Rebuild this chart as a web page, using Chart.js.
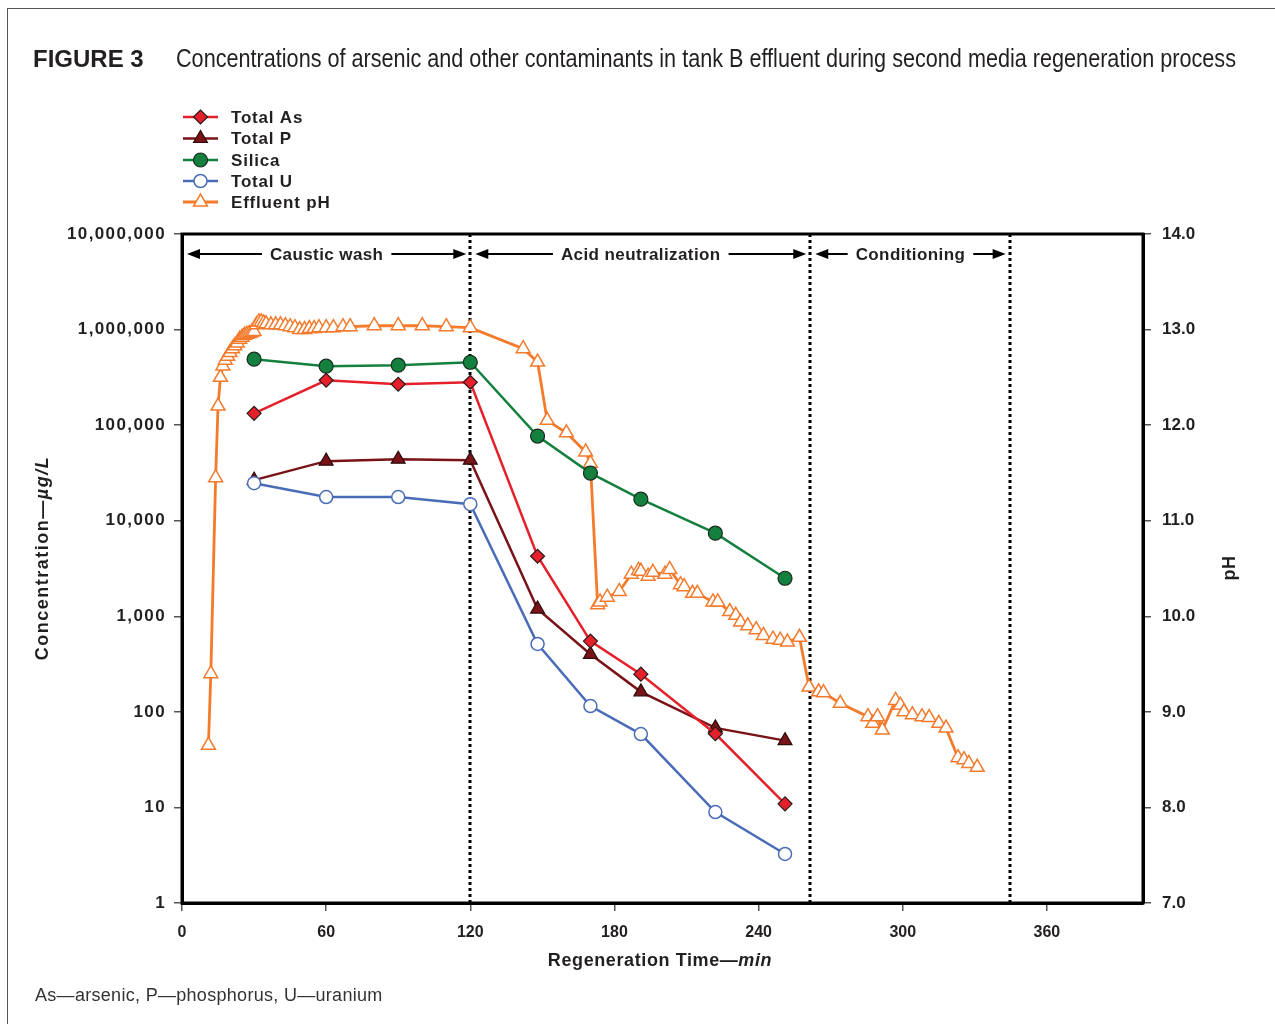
<!DOCTYPE html>
<html>
<head>
<meta charset="utf-8">
<script src="https://cdn.jsdelivr.net/npm/chart.js@4.4.0/dist/chart.umd.min.js"></script>
<style>
  html, body { margin: 0; padding: 0; background: #fff; }
  #wrap { position: relative; width: 1275px; height: 1024px; overflow: hidden; }
  #frame { position: absolute; left: 7px; top: 8px; width: 1280px; height: 1030px;
           border-left: 1.5px solid #555; border-top: 1.5px solid #555; }
  canvas { position: absolute; left: 0; top: 0; }
</style>
</head>
<body>
<div id="wrap">
  <div id="frame"></div>
  <canvas id="chart" width="1275" height="1024"></canvas>
</div>
<script>
// sampling times (min) for the lab samples
const sampleTimes = [30, 60, 90, 120, 148, 170, 191, 222, 251];
const totalAs = [133000, 295000, 268000, 281000, 4250, 550, 248, 59, 10.9];
const totalP  = [26600, 42000, 44000, 43000, 1190, 400, 162, 68, 50];
const silica  = [490000, 414000, 424000, 455000, 76800, 31500, 16800, 7400, 2500];
const totalU  = [24700, 17700, 17700, 14900, 513, 115, 58.6, 8.95, 3.26];

// effluent pH (online readings)
const phTimes = [11, 12, 14, 15, 16, 17, 18, 19, 20, 21, 22, 23, 24, 25, 26, 27, 28, 29, 30,
  31, 32, 33, 34, 35, 37, 39, 41, 43, 45, 47, 49, 51, 53, 55, 57, 60, 63, 67, 70, 80, 90, 100, 110, 120,
  142, 148, 152, 160, 168, 170, 173, 174, 177, 182, 187, 190, 191, 194, 196, 201, 203,
  207.5, 209, 212.5, 214.5, 221, 223, 228, 230.5, 232.5, 235.5, 239, 242, 246, 249, 252, 257,
  261, 265, 267, 274, 285.5, 287.5, 289.5, 291.5, 297, 299, 300.5, 304, 308, 311, 315, 318,
  323, 325.5, 327.5, 331];
const phValues = [8.65, 9.4, 11.45, 12.2, 12.5, 12.62, 12.68, 12.72, 12.76, 12.8, 12.83, 12.86, 12.9, 12.92, 12.94, 12.95, 12.96, 12.97, 12.98,
  13.05, 13.08, 13.08, 13.07, 13.06, 13.05, 13.05, 13.05, 13.04, 13.03, 13.02, 13.0, 13.0, 13.01, 13.01, 13.02, 13.02, 13.02, 13.03, 13.03, 13.04, 13.04, 13.04, 13.03, 13.02,
  12.8, 12.66, 12.05, 11.92, 11.72, 11.6, 10.12, 10.15, 10.2, 10.26, 10.44, 10.48, 10.47, 10.42, 10.46, 10.44, 10.49,
  10.33, 10.31, 10.24, 10.24, 10.15, 10.15, 10.05, 10.01, 9.94, 9.9, 9.86, 9.8, 9.76, 9.75, 9.73, 9.78,
  9.26, 9.21, 9.2, 9.09, 8.95, 8.88, 8.95, 8.81, 9.12, 9.07, 9.0, 8.97, 8.95, 8.94, 8.88, 8.83,
  8.52, 8.5, 8.46, 8.42];

const xTicks = [0, 60, 120, 180, 240, 300, 360];
const yTicks = [1, 10, 100, 1000, 10000, 100000, 1000000, 10000000];
const phTicks = [7, 8, 9, 10, 11, 12, 13, 14];

const phaseNames = ['Caustic wash', 'Acid neutralization', 'Conditioning'];
const phaseStart = [0, 120, 261.5];
const phaseEnd = [120, 261.5, 344.5];

const FONT = '"Liberation Sans", Arial, Helvetica, sans-serif';
const INK = '#231f20';

function pts(xs, ys) {
  return xs.map((t, i) => ({ x: t, y: ys[i] }));
}

// wider tracking for the left tick labels
function spacedLabels(s) {
  if (s._spaced) return;
  const orig = s.drawLabels.bind(s);
  s.drawLabels = function (area) {
    const c = this.ctx;
    c.save();
    c.letterSpacing = '1.4px';
    orig(area);
    c.restore();
  };
  s._spaced = true;
}

function drawMarker(ctx, ds, x, y) {
  const opts = { pointStyle: ds.pointStyle, radius: ds.pointRadius, borderWidth: ds.pointBorderWidth, rotation: 0 };
  ctx.fillStyle = ds.pointBackgroundColor;
  ctx.strokeStyle = ds.pointBorderColor;
  ctx.lineWidth = ds.pointBorderWidth;
  if (Chart.helpers && Chart.helpers.drawPoint) {
    Chart.helpers.drawPoint(ctx, opts, x, y);
  } else {
    ctx.beginPath(); ctx.arc(x, y, ds.pointRadius, 0, Math.PI * 2); ctx.fill(); ctx.stroke();
  }
}

const decor = {
  id: 'decor',
  beforeDatasetsDraw(chart) {
    const { ctx, chartArea: a, scales: { x } } = chart;
    ctx.save();
    // dotted phase boundaries
    ctx.strokeStyle = '#000';
    ctx.lineWidth = 3;
    ctx.setLineDash([3, 3]);
    phaseEnd.forEach(t => {
      const px = Math.round(x.getPixelForValue(t));
      ctx.beginPath(); ctx.moveTo(px, a.top); ctx.lineTo(px, a.bottom); ctx.stroke();
    });
    ctx.setLineDash([]);

    // phase arrows
    const ay = a.top + 20;
    ctx.font = 'bold 17px ' + FONT;
    ctx.letterSpacing = '0.4px';
    ctx.textAlign = 'center';
    ctx.textBaseline = 'middle';
    phaseNames.forEach((name, i) => {
      const x0 = x.getPixelForValue(phaseStart[i]) + 5;
      const x1 = x.getPixelForValue(phaseEnd[i]) - 4;
      const cx = (x0 + x1) / 2;
      const w = ctx.measureText(name).width;
      ctx.fillStyle = INK;
      ctx.fillText(name, cx, ay + 1);
      ctx.strokeStyle = '#000';
      ctx.lineWidth = 2;
      ctx.beginPath();
      ctx.moveTo(x0 + 8, ay); ctx.lineTo(cx - w / 2 - 8, ay);
      ctx.moveTo(cx + w / 2 + 8, ay); ctx.lineTo(x1 - 8, ay);
      ctx.stroke();
      ctx.fillStyle = '#000';
      ctx.beginPath();
      ctx.moveTo(x0, ay); ctx.lineTo(x0 + 13, ay - 5); ctx.lineTo(x0 + 13, ay + 5); ctx.closePath();
      ctx.moveTo(x1, ay); ctx.lineTo(x1 - 13, ay - 5); ctx.lineTo(x1 - 13, ay + 5); ctx.closePath();
      ctx.fill();
    });
    ctx.restore();
  },
  afterDraw(chart) {
    const { ctx, chartArea: a } = chart;
    ctx.save();
    // plot box
    ctx.strokeStyle = '#000';
    ctx.lineWidth = 3;
    ctx.strokeRect(a.left, a.top, a.right - a.left, a.bottom - a.top);

    // figure title
    ctx.fillStyle = INK;
    ctx.textAlign = 'left';
    ctx.textBaseline = 'alphabetic';
    ctx.font = 'bold 24px ' + FONT;
    ctx.fillText('FIGURE 3', 33, 67);
    const sub = 'Concentrations of arsenic and other contaminants in tank B effluent during second media regeneration process';
    ctx.font = '25px ' + FONT;
    const sw = ctx.measureText(sub).width;
    ctx.save();
    ctx.translate(176, 67);
    ctx.scale(1060 / sw, 1);
    ctx.fillText(sub, 0, 0);
    ctx.restore();

    // legend
    const rowY = [117, 138.5, 160, 181, 202];
    chart.data.datasets.forEach((ds, i) => {
      const y = rowY[i];
      ctx.strokeStyle = ds.borderColor;
      ctx.lineWidth = ds.borderWidth;
      ctx.beginPath(); ctx.moveTo(183, y); ctx.lineTo(218, y); ctx.stroke();
      drawMarker(ctx, ds, 200.5, y);
      ctx.fillStyle = INK;
      ctx.font = 'bold 17px ' + FONT;
      ctx.letterSpacing = '0.8px';
      ctx.textBaseline = 'middle';
      ctx.textAlign = 'left';
      ctx.fillText(ds.label, 231, y + 1);
      ctx.letterSpacing = '0px';
    });

    // axis titles (mixed bold / bold italic)
    function mixed(parts, cx, cy, rot, spacing) {
      ctx.save();
      ctx.translate(cx, cy);
      ctx.rotate(rot);
      ctx.letterSpacing = spacing + 'px';
      ctx.textBaseline = 'middle';
      ctx.textAlign = 'left';
      let total = 0;
      parts.forEach(p => { ctx.font = p[1] + ' 18px ' + FONT; total += ctx.measureText(p[0]).width; });
      let xx = -total / 2;
      parts.forEach(p => {
        ctx.font = p[1] + ' 18px ' + FONT;
        ctx.fillText(p[0], xx, 0);
        xx += ctx.measureText(p[0]).width;
      });
      ctx.restore();
    }
    ctx.fillStyle = INK;
    mixed([['Regeneration Time\u2014', 'bold'], ['min', 'italic bold']], 660, 961, 0, 0.6);
    mixed([['Concentration\u2014', 'bold'], ['\u00b5g/L', 'italic bold']], 43, 558, -Math.PI / 2, 1.5);
    mixed([['pH', 'bold']], 1230, 568, -Math.PI / 2, 0.6);

    // footnote
    ctx.font = '18px ' + FONT;
    ctx.fillStyle = '#333';
    ctx.textAlign = 'left';
    ctx.textBaseline = 'alphabetic';
    ctx.letterSpacing = '0.3px';
    ctx.fillText('As\u2014arsenic, P\u2014phosphorus, U\u2014uranium', 35, 1001);
    ctx.restore();
  }
};

const tickFont = { family: FONT, size: 17, weight: 'bold' };
const tickGrid = { drawOnChartArea: false, drawTicks: true, tickLength: 8, color: '#555', lineWidth: 1.5 };
const axisBorder = { display: true, color: '#000', width: 3 };

new Chart(document.getElementById('chart'), {
  type: 'line',
  data: {
    datasets: [
      {
        label: 'Total As', data: pts(sampleTimes, totalAs), yAxisID: 'y', order: 1,
        borderColor: '#e5202a', borderWidth: 2.5,
        pointStyle: 'rectRot', pointRadius: 7, pointBackgroundColor: '#e5202a',
        pointBorderColor: '#2a1a1a', pointBorderWidth: 1.2
      },
      {
        label: 'Total P', data: pts(sampleTimes, totalP), yAxisID: 'y', order: 2,
        borderColor: '#7a1317', borderWidth: 2.5,
        pointStyle: 'triangle', pointRadius: 8, pointBackgroundColor: '#7a1317',
        pointBorderColor: '#2a0a0a', pointBorderWidth: 1.2
      },
      {
        label: 'Silica', data: pts(sampleTimes, silica), yAxisID: 'y', order: 3,
        borderColor: '#13803e', borderWidth: 2.5,
        pointStyle: 'circle', pointRadius: 7, pointBackgroundColor: '#13803e',
        pointBorderColor: '#1c2a1f', pointBorderWidth: 1.2
      },
      {
        label: 'Total U', data: pts(sampleTimes, totalU), yAxisID: 'y', order: 0,
        borderColor: '#4a6cb8', borderWidth: 2.5,
        pointStyle: 'circle', pointRadius: 6.5, pointBackgroundColor: '#ffffff',
        pointBorderColor: '#4a6cb8', pointBorderWidth: 1.5
      },
      {
        label: 'Effluent pH', data: pts(phTimes, phValues), yAxisID: 'y1', order: 4,
        borderColor: '#f47a2c', borderWidth: 2.8,
        pointStyle: 'triangle', pointRadius: 8, pointBackgroundColor: '#ffffff',
        pointBorderColor: '#f47a2c', pointBorderWidth: 1.5
      }
    ]
  },
  options: {
    responsive: false,
    maintainAspectRatio: false,
    animation: false,
    devicePixelRatio: 1,
    layout: { padding: { top: 234, left: 0, right: 0, bottom: 0 } },
    elements: { line: { tension: 0 } },
    plugins: { legend: { display: false }, tooltip: { enabled: false } },
    scales: {
      x: {
        type: 'linear', min: 0, max: 400,
        afterBuildTicks: s => { s.ticks = xTicks.map(v => ({ value: v })); },
        afterFit: s => { s.height = 121; },
        ticks: { font: { family: FONT, size: 16, weight: 'bold' }, color: INK, padding: 12, maxRotation: 0, autoSkip: false },
        grid: tickGrid, border: axisBorder
      },
      y: {
        type: 'logarithmic', position: 'left', min: 1, max: 10000000,
        afterBuildTicks: s => { s.ticks = yTicks.map(v => ({ value: v })); },
        afterFit: s => { s.width = 182; spacedLabels(s); },
        ticks: { font: tickFont, color: INK, padding: 8, autoSkip: false,
                 callback: v => Number(v).toLocaleString('en-US') },
        grid: tickGrid, border: axisBorder
      },
      y1: {
        type: 'linear', position: 'right', min: 7, max: 14,
        afterBuildTicks: s => { s.ticks = phTicks.map(v => ({ value: v })); },
        afterFit: s => { s.width = 132; },
        ticks: { font: tickFont, color: INK, padding: 11, autoSkip: false,
                 callback: v => Number(v).toFixed(1) },
        grid: tickGrid, border: axisBorder
      }
    }
  },
  plugins: [decor]
});
</script>
</body>
</html>
